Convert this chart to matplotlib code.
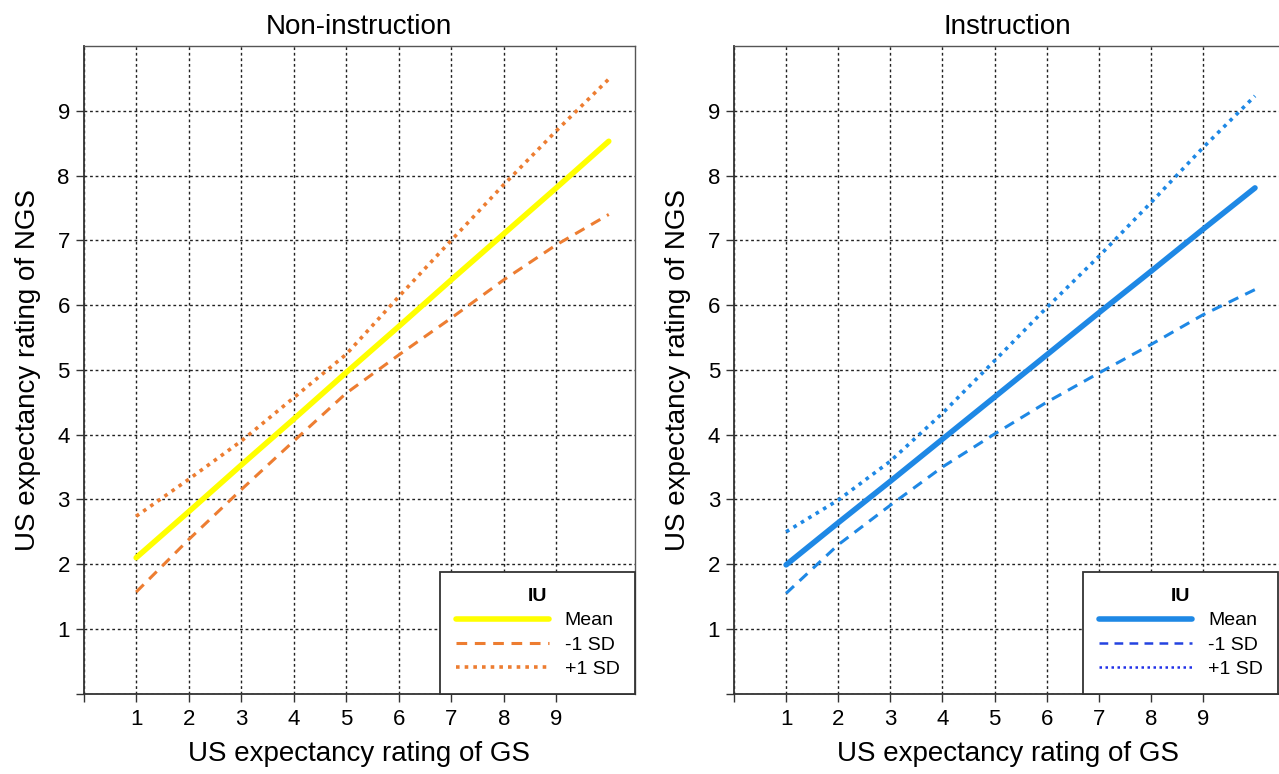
import matplotlib.pyplot as plt

plt.rcParams['font.family'] = ['Liberation Sans', 'DejaVu Sans']

# values read at x = 1..10
x_vals = [1, 2, 3, 4, 5, 6, 7, 8, 9, 10]

# Non-instruction
non_mean = [2.10, 2.81, 3.53, 4.24, 4.96, 5.67, 6.39, 7.10, 7.81, 8.53]
non_minus = [1.57, 2.38, 3.15, 3.90, 4.64, 5.23, 5.80, 6.39, 6.93, 7.40]
non_plus = [2.74, 3.31, 3.90, 4.57, 5.24, 6.13, 7.00, 7.86, 8.69, 9.49]

# Instruction
ins_mean = [1.99, 2.64, 3.28, 3.93, 4.58, 5.23, 5.88, 6.52, 7.17, 7.81]
ins_minus = [1.55, 2.30, 2.91, 3.50, 4.01, 4.50, 4.95, 5.39, 5.85, 6.24]
ins_plus = [2.50, 2.99, 3.59, 4.33, 5.14, 5.96, 6.75, 7.58, 8.43, 9.23]

tick_vals = [0, 1, 2, 3, 4, 5, 6, 7, 8, 9]
tick_labels = ['', '1', '2', '3', '4', '5', '6', '7', '8', '9']
legend_labels = ['Mean', '-1 SD', '+1 SD']

fig = plt.figure(figsize=(12.79, 7.74), dpi=100)
ax1 = fig.add_axes([0.0654, 0.1037, 0.4311, 0.8368])
ax2 = fig.add_axes([0.5739, 0.1037, 0.4277, 0.8368])


def style_axes(ax, title):
    ax.set_xlim(0, 10.5)
    ax.set_ylim(0, 10)
    ax.set_xticks(tick_vals)
    ax.set_xticklabels(tick_labels, fontsize=16)
    ax.set_yticks(tick_vals)
    ax.set_yticklabels(tick_labels, fontsize=16)
    ax.tick_params(direction='out', length=6, width=1, color='#333333')
    ax.tick_params(axis='x', pad=5)
    ax.tick_params(axis='y', pad=4)
    ax.grid(True, color='#222222', linestyle=(0, (2, 2)), linewidth=1)
    ax.set_axisbelow(True)
    for side in ['left', 'bottom']:
        ax.spines[side].set_linewidth(1.3)
        ax.spines[side].set_color('#333333')
    for side in ['top', 'right']:
        ax.spines[side].set_linewidth(1)
        ax.spines[side].set_color('#555555')
    ax.set_title(title, fontsize=20, pad=9)
    ax.set_xlabel('US expectancy rating of GS', fontsize=20, labelpad=8)
    ax.set_ylabel('US expectancy rating of NGS', fontsize=20, labelpad=12)


# left panel
ax1.plot(x_vals, non_mean, color='#FFFF00', linewidth=4, solid_capstyle='round', label=legend_labels[0])
ax1.plot(x_vals, non_minus, color='#ED7D31', linewidth=2.2, linestyle=(0, (3.5, 2.5)), label=legend_labels[1])
ax1.plot(x_vals, non_plus, color='#ED7D31', linewidth=2.6, linestyle=(0, (1, 1.4)), label=legend_labels[2])
style_axes(ax1, 'Non-instruction')
leg1 = ax1.legend(title='IU', loc='lower right', fontsize=14, handlelength=4.8,
                  fancybox=False, edgecolor='#333333', borderpad=0.8, labelspacing=0.35,
                  borderaxespad=0, framealpha=1)
leg1.get_title().set_fontweight('bold')
leg1.get_title().set_fontsize(14)
leg1.get_frame().set_linewidth(1.3)

# right panel
ax2.plot(x_vals, ins_mean, color='#1E88E5', linewidth=4, solid_capstyle='round', label=legend_labels[0])
ax2.plot(x_vals, ins_minus, color='#1E88E5', linewidth=2.2, linestyle=(0, (3.5, 2.5)), label=legend_labels[1])
ax2.plot(x_vals, ins_plus, color='#1E88E5', linewidth=2.6, linestyle=(0, (1, 1.4)), label=legend_labels[2])
style_axes(ax2, 'Instruction')
leg2 = ax2.legend(title='IU', loc='lower right', fontsize=14, handlelength=4.8,
                  fancybox=False, edgecolor='#333333', borderpad=0.8, labelspacing=0.35,
                  borderaxespad=0, framealpha=1, bbox_to_anchor=(0.995, 0))
leg2.get_title().set_fontweight('bold')
leg2.get_title().set_fontsize(14)
leg2.get_frame().set_linewidth(1.3)
leg_lines = leg2.get_lines()
leg_lines[1].set_color('#2443E0')
leg_lines[1].set_linewidth(1.8)
leg_lines[2].set_color('#2030E8')
leg_lines[2].set_linewidth(1.8)

fig.savefig('out.png', dpi=100)
